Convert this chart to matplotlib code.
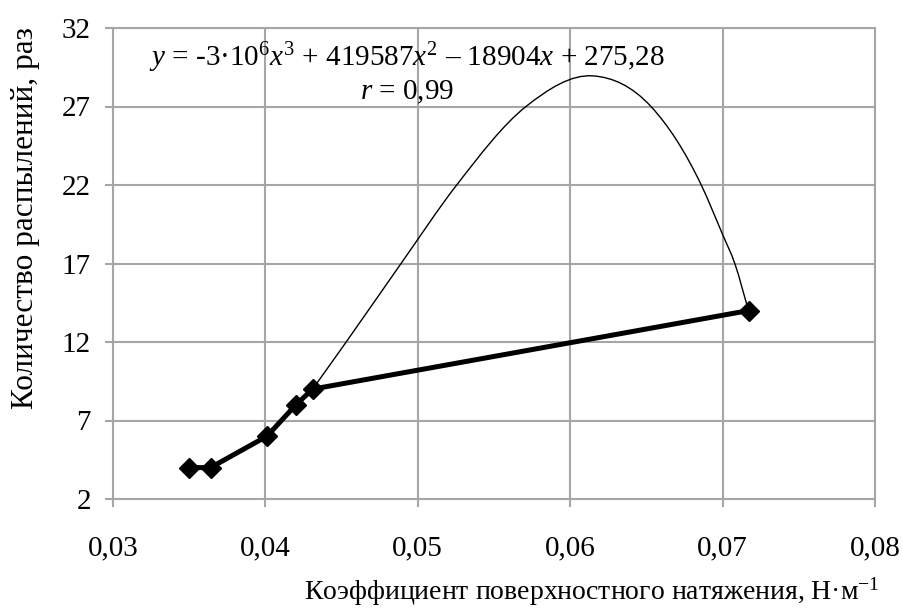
import matplotlib
matplotlib.use("Agg")
import matplotlib.pyplot as plt
from matplotlib.path import Path
from matplotlib.patches import PathPatch

plt.rcParams['font.family'] = ['Liberation Serif', 'DejaVu Serif']
plt.rcParams['mathtext.fontset'] = 'custom'
plt.rcParams['mathtext.rm'] = 'Liberation Serif'
plt.rcParams['mathtext.it'] = 'Liberation Serif:italic'

# Measured data
surface_tension = [0.0350, 0.0364, 0.0401, 0.0420, 0.0431, 0.0717]
sprays = [4, 4, 6, 8, 9, 14]

# Thin trend curve
curve_x = [0.0431, 0.0453, 0.0489, 0.05255, 0.0571, 0.0615,
           0.0653, 0.0686, 0.0700, 0.0708, 0.0717]
curve_y = [9.0, 12.0, 17.0, 22.0, 27.0, 28.95,
           27.0, 22.0, 18.85, 17.0, 14.0]

x_ticks = [0.03, 0.04, 0.05, 0.06, 0.07, 0.08]
x_labels = ['0,03', '0,04', '0,05', '0,06', '0,07', '0,08']
y_ticks = [2, 7, 12, 17, 22, 27, 32]

grid_c = '#a6a6a6'
fs = 21


def smooth_path(xs, ys):
    """Cubic Bezier path through the given points (three-point tangents)."""
    n = len(xs)
    h = [xs[i + 1] - xs[i] for i in range(n - 1)]
    d = [(ys[i + 1] - ys[i]) / h[i] for i in range(n - 1)]
    m = [0.0] * n
    m[0], m[-1] = d[0], d[-1]
    for k in range(1, n - 1):
        m[k] = (h[k] * d[k - 1] + h[k - 1] * d[k]) / (h[k - 1] + h[k])
    verts = [(xs[0], ys[0])]
    codes = [Path.MOVETO]
    for i in range(n - 1):
        c1 = (xs[i] + h[i] / 3, ys[i] + m[i] * h[i] / 3)
        c2 = (xs[i + 1] - h[i] / 3, ys[i + 1] - m[i + 1] * h[i] / 3)
        verts += [c1, c2, (xs[i + 1], ys[i + 1])]
        codes += [Path.CURVE4] * 3
    return Path(verts, codes)


fig = plt.figure(figsize=(9.04, 6.09), dpi=100)
ax = fig.add_axes([113/904, 1-499/609, (875-113)/904, (499-28)/609])

ax.add_patch(PathPatch(smooth_path(curve_x, curve_y), fill=False,
                       edgecolor='black', lw=1.0, zorder=3))
ax.plot(surface_tension, sprays, color='black', lw=3.6, marker='D',
        markersize=10, zorder=5, solid_joinstyle='round')

ax.set_xlim(0.03, 0.08)
ax.set_ylim(2, 32)
ax.set_xticks(x_ticks)
ax.set_xticklabels(x_labels)
ax.set_yticks(y_ticks)
ax.grid(True, color=grid_c, lw=1.5)
ax.set_axisbelow(True)
for s in ax.spines.values():
    s.set_color(grid_c)
    s.set_linewidth(1.5)
ax.tick_params(axis='both', direction='out', length=6, width=1.5,
               color=grid_c, labelsize=fs)
ax.tick_params(axis='x', pad=20)
ax.tick_params(axis='y', pad=10)

ax.text(0.0493, 30.09,
        r'$y$ = -3·10$^6$$x^3$ + 419587$x^2$ – 18904$x$ + 275,28',
        ha='center', va='center', fontsize=fs)
ax.text(0.0493, 27.92, r'$r$ = 0,99', ha='center', va='center', fontsize=fs)

fig.text(26/904, 1-218/609, 'Количество распылений, раз', rotation=90,
         ha='center', va='center', fontsize=22.5)
fig.text(880/904, 1-592/609, r'Коэффициент поверхностного натяжения, Н·м$^{-1}$',
         ha='right', va='center', fontsize=20)

fig.savefig('out.png', dpi=100)
